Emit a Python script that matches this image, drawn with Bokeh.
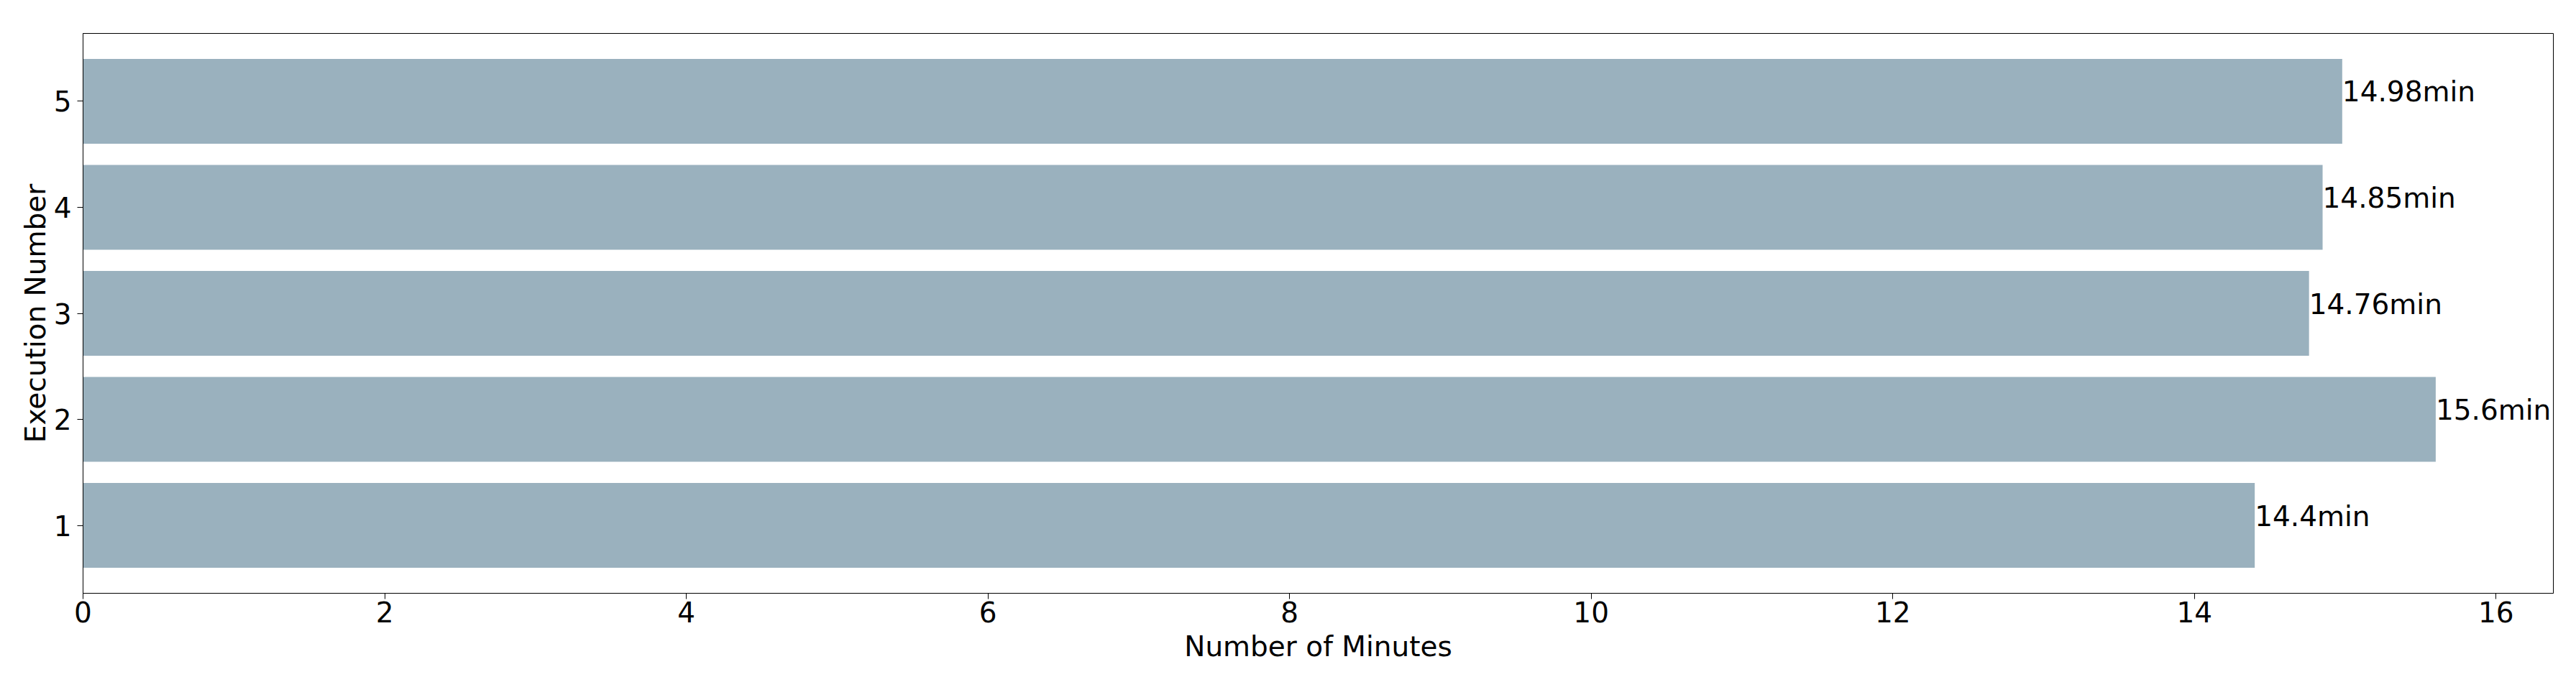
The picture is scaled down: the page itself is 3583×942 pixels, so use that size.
from bokeh.plotting import figure
from bokeh.models import ColumnDataSource, Range1d, FixedTicker
from bokeh.core.properties import value
from bokeh.embed import file_html
from bokeh.resources import INLINE

executions = [1, 2, 3, 4, 5]
minutes = [14.4, 15.6, 14.76, 14.85, 14.98]
labels = [f"{m:g}min" for m in minutes]
x_ticks = [0, 2, 4, 6, 8, 10, 12, 14, 16]

FONT = "DejaVu Sans"
BAR_COLOR = "#9ab1be"

src = ColumnDataSource(dict(y=executions, right=minutes, label=labels))

p = figure(width=3575, height=934, output_backend="svg", toolbar_location=None,
           x_range=Range1d(0, 16.38), y_range=Range1d(0.36, 5.64),
           min_border_left=115, min_border_right=24, min_border_top=46, min_border_bottom=109)

p.hbar(y="y", right="right", left=0, height=0.8, source=src,
       fill_color=BAR_COLOR, line_color=None)
p.text(x="right", y="y", text="label", source=src, text_font=value(FONT),
       text_font_size="39px", text_color="black", text_align="left",
       text_baseline="middle", y_offset=-13)

p.xgrid.visible = False
p.ygrid.visible = False
p.outline_line_color = "black"
p.outline_line_width = 1
p.outline_line_alpha = 1

p.xaxis.ticker = FixedTicker(ticks=x_ticks)
p.yaxis.ticker = FixedTicker(ticks=executions)
p.xaxis.axis_label = "Number of Minutes"
p.yaxis.axis_label = "Execution Number"

for ax in (p.xaxis[0], p.yaxis[0]):
    ax.axis_line_color = "black"
    ax.major_tick_line_color = "black"
    ax.major_tick_out = 8
    ax.major_tick_in = 0
    ax.minor_tick_out = 0
    ax.minor_tick_in = 0
    ax.major_label_text_font = FONT
    ax.major_label_text_font_size = "39px"
    ax.major_label_text_color = "black"
    ax.axis_label_text_font = FONT
    ax.axis_label_text_font_size = "39px"
    ax.axis_label_text_font_style = "normal"
    ax.axis_label_text_color = "black"

p.xaxis.major_label_standoff = 3
p.xaxis.axis_label_standoff = 8
p.yaxis.major_label_standoff = 8
p.yaxis.axis_label_standoff = 0

open("out.html", "w").write(file_html(p, INLINE))
